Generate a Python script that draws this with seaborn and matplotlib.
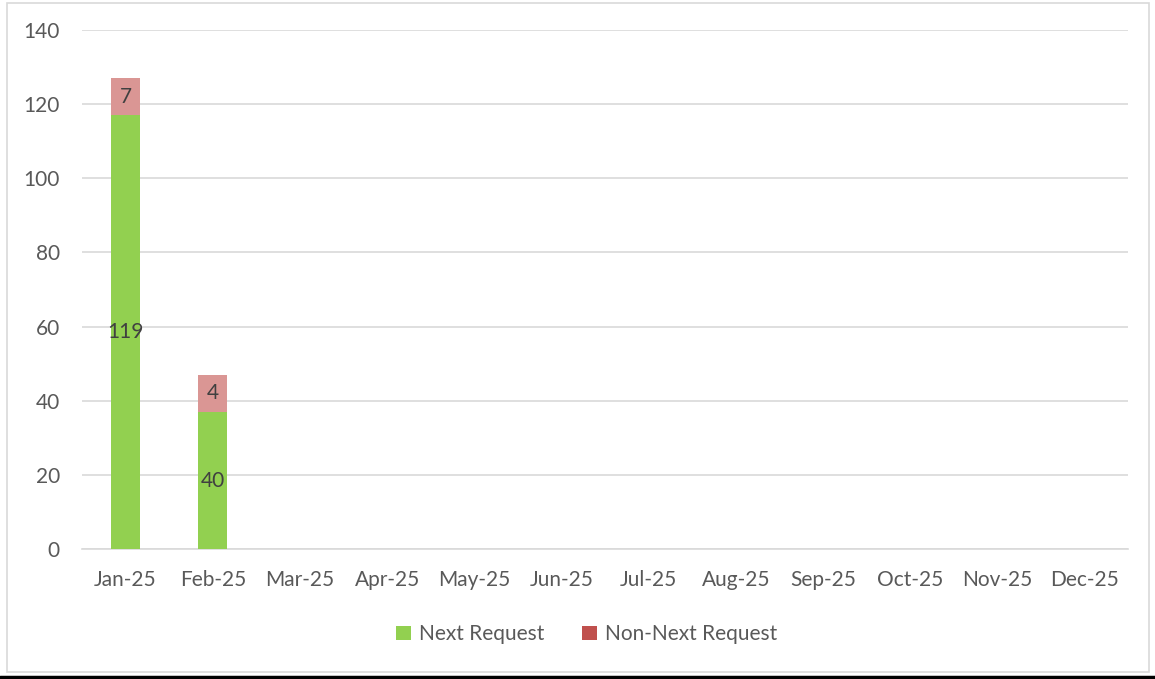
import numpy as np
import pandas as pd
import matplotlib
matplotlib.use("Agg")
import matplotlib.pyplot as plt
import seaborn as sns
from matplotlib.patches import Patch, Rectangle
from matplotlib.lines import Line2D

# data
months = ["Jan-25", "Feb-25", "Mar-25", "Apr-25", "May-25", "Jun-25",
          "Jul-25", "Aug-25", "Sep-25", "Oct-25", "Nov-25", "Dec-25"]
next_req = [117, 37, 0, 0, 0, 0, 0, 0, 0, 0, 0, 0]
non_next_req = [10, 10, 0, 0, 0, 0, 0, 0, 0, 0, 0, 0]
next_labels = ["119", "40"]
non_next_labels = ["7", "4"]
series_names = ["Next Request", "Non-Next Request"]

df = pd.DataFrame({"month": months, "next": next_req, "non_next": non_next_req})
df["total"] = df["next"] + df["non_next"]

sns.set_style("white")
plt.rcParams["font.family"] = ["Lato", "DejaVu Sans"]

grey = "#595959"
green = "#92D050"
pink = "#DA9694"
red = "#C0504D"

fig = plt.figure(figsize=(11.55, 6.79), dpi=100)
ax = fig.add_axes([0.071, 0.191, 0.906, 0.765])

sns.barplot(data=df, x="month", y="total", color=pink, width=0.33,
            saturation=1, linewidth=0, ax=ax, zorder=3)
sns.barplot(data=df, x="month", y="next", color=green, width=0.33,
            saturation=1, linewidth=0, ax=ax, zorder=3)

# data labels
for i, lab in enumerate(next_labels):
    ax.text(i, df["next"][i] / 2, lab, ha="center", va="center",
            fontsize=15, color="#404040", zorder=5)
for i, lab in enumerate(non_next_labels):
    ax.text(i, df["next"][i] + df["non_next"][i] / 2, lab, ha="center",
            va="center", fontsize=15, color="#404040", zorder=5)

ax.set_ylim(0, 140)
ax.set_yticks(range(0, 141, 20))
ax.set_xlim(-0.5, len(months) - 0.5)
ax.yaxis.grid(True, color="#D9D9D9", linewidth=1.2, zorder=0)
ax.set_axisbelow(True)
for s in ["top", "right", "left"]:
    ax.spines[s].set_visible(False)
ax.spines["bottom"].set_color("#D9D9D9")
ax.spines["bottom"].set_linewidth(1.2)
ax.set_xlabel("")
ax.set_ylabel("")
ax.tick_params(axis="both", length=0, labelsize=15, labelcolor=grey)
ax.tick_params(axis="y", pad=16)
ax.tick_params(axis="x", pad=15)

handles = [Patch(facecolor=green, edgecolor="none"),
           Patch(facecolor=red, edgecolor="none")]
fig.legend(handles, series_names, loc="center", bbox_to_anchor=(0.508, 0.066),
           ncol=2, frameon=False, fontsize=15, labelcolor=grey,
           handlelength=0.7, handleheight=0.7, handletextpad=0.4,
           columnspacing=1.8)

# chart frame
fig.patches.append(Rectangle((0.006, 0.01), 0.989, 0.985, transform=fig.transFigure,
                             fill=False, edgecolor="#D9D9D9", linewidth=1.2))
fig.lines.append(Line2D([0, 1], [0.003, 0.003], transform=fig.transFigure,
                        color="black", linewidth=2.5))

fig.savefig("out.png", dpi=100, facecolor="white")
